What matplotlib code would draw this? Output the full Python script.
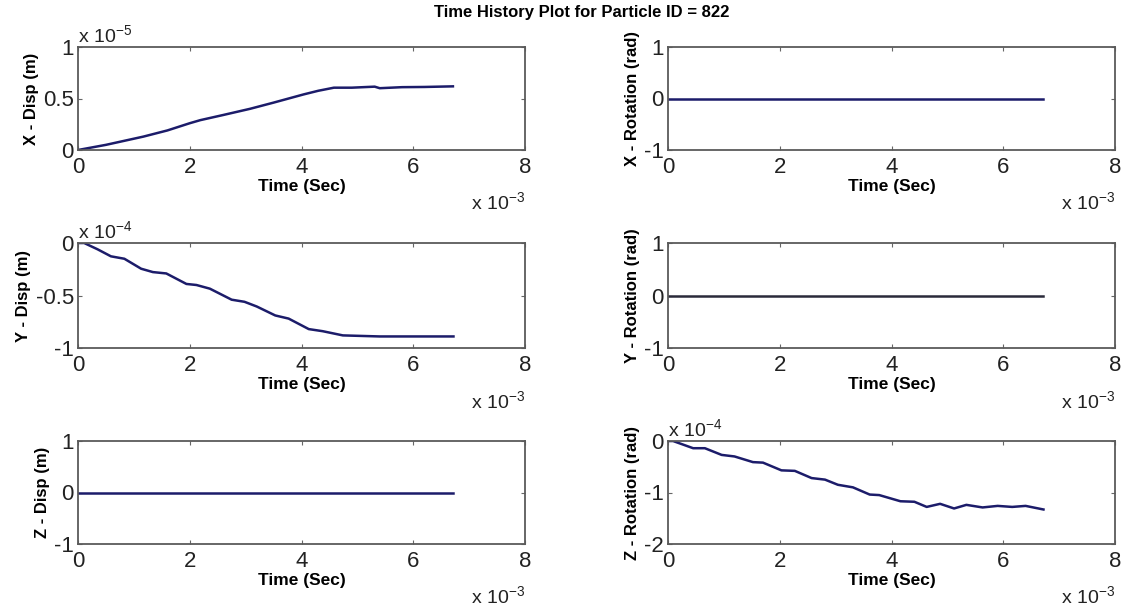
import numpy as np
import matplotlib
matplotlib.use('Agg')
import matplotlib.pyplot as plt

plt.rcParams['font.family'] = ['Liberation Sans', 'DejaVu Sans']

TITLE = 'Time History Plot for Particle ID = 822'

# time in units of 1e-3 s
t_x = [0, 0.5, 1.17, 1.6, 2.0, 2.19, 2.6, 3.08, 3.5, 4.04, 4.3, 4.58, 4.9, 5.31, 5.4, 5.8, 6.2, 6.71]
x_disp = [0, 0.05, 0.13, 0.19, 0.26, 0.29, 0.34, 0.40, 0.46, 0.54, 0.575, 0.605, 0.605, 0.615, 0.60, 0.61, 0.612, 0.618]  # 1e-5 m

t_y = [0, 0.11, 0.35, 0.59, 0.83, 1.13, 1.34, 1.58, 1.94, 2.12, 2.36, 2.75, 2.98, 3.2, 3.53, 3.77,
       4.13, 4.38, 4.74, 5.4, 6.0, 6.72]
y_disp = [0, 0, -0.06, -0.127, -0.15, -0.245, -0.277, -0.29, -0.39, -0.40, -0.435, -0.54, -0.56,
          -0.605, -0.69, -0.72, -0.82, -0.84, -0.88, -0.89, -0.89, -0.89]  # 1e-4 m

t_flat = [0, 6.72]
zero_vals = [0, 0]

t_rz = [0, 0.09, 0.45, 0.66, 0.96, 1.19, 1.52, 1.7, 2.03, 2.27, 2.57, 2.81, 3.04, 3.31, 3.61, 3.78,
        4.16, 4.41, 4.63, 4.87, 5.12, 5.34, 5.63, 5.9, 6.16, 6.4, 6.72]
z_rot = [0, 0, -0.14, -0.14, -0.27, -0.30, -0.41, -0.42, -0.57, -0.58, -0.72, -0.75, -0.85, -0.90,
         -1.04, -1.05, -1.17, -1.18, -1.28, -1.22, -1.31, -1.24, -1.29, -1.26, -1.28, -1.26, -1.33]  # 1e-4 rad

PANELS = [
    # (t, y, ylabel, ylim, yticks, ytick labels, y exponent)
    (t_x, x_disp, 'X - Disp (m)', (0, 1), [0, 0.5, 1], ['0', '0.5', '1'], '-5'),
    (t_flat, zero_vals, 'X - Rotation (rad)', (-1, 1), [-1, 0, 1], ['-1', '0', '1'], None),
    (t_y, y_disp, 'Y - Disp (m)', (-1, 0), [-1, -0.5, 0], ['-1', '-0.5', '0'], '-4'),
    (t_flat, zero_vals, 'Y - Rotation (rad)', (-1, 1), [-1, 0, 1], ['-1', '0', '1'], None),
    (t_flat, zero_vals, 'Z - Disp (m)', (-1, 1), [-1, 0, 1], ['-1', '0', '1'], None),
    (t_rz, z_rot, 'Z - Rotation (rad)', (-2, 0), [-2, -1, 0], ['-2', '-1', '0'], '-4'),
]

LINE_COLORS = ['#1c1c6a', '#1c1c6a', '#1c1c6a', '#2a2a3a', '#1c1c6a', '#1c1c6a']

fig = plt.figure(figsize=(11.3, 6.11), dpi=100)
W, H = 1130, 611
cols = [(78, 525), (668, 1115)]
rows = [(47, 150), (243, 348), (441, 544)]

for i, (t, y, ylab, ylim, yt, ytl, yexp) in enumerate(PANELS):
    r, c = divmod(i, 2)
    x0, x1 = cols[c]
    y0, y1 = rows[r]
    ax = fig.add_axes([x0 / W, 1 - y1 / H, (x1 - x0) / W, (y1 - y0) / H])
    ax.plot(t, y, color=LINE_COLORS[i], lw=1.8)
    ax.set_xlim(0, 8)
    ax.set_ylim(*ylim)
    ax.set_xticks([0, 2, 4, 6, 8])
    ax.set_xticklabels(['0', '2', '4', '6', '8'])
    ax.set_yticks(yt)
    ax.set_yticklabels(ytl)
    ax.tick_params(direction='in', length=3, width=0.8, labelsize=16, top=True, right=True,
                   colors='#666666', labelcolor='#222222')
    ax.tick_params(axis='x', pad=5)
    ax.tick_params(axis='y', pad=3)
    for s in ax.spines.values():
        s.set_color('#5a5a5a')
        s.set_linewidth(1.3)
    ax.set_xlabel('Time (Sec)', fontsize=12.5, fontweight='bold', labelpad=1)
    ax.set_ylabel(ylab, fontsize=12, fontweight='bold', labelpad=3)
    ax.text(1.0, -0.4, r'x 10$^{\mathregular{-3}}$', transform=ax.transAxes,
            ha='right', va='top', fontsize=14, color='#222222')
    if yexp:
        ax.text(0.0, 1.0, r'x 10$^{\mathregular{%s}}$' % yexp, transform=ax.transAxes,
                ha='left', va='bottom', fontsize=14, color='#222222')

fig.text(582 / W, 1 - 12 / H, TITLE, ha='center', va='center', fontsize=12, fontweight='bold')

fig.savefig('out.png', dpi=100)
